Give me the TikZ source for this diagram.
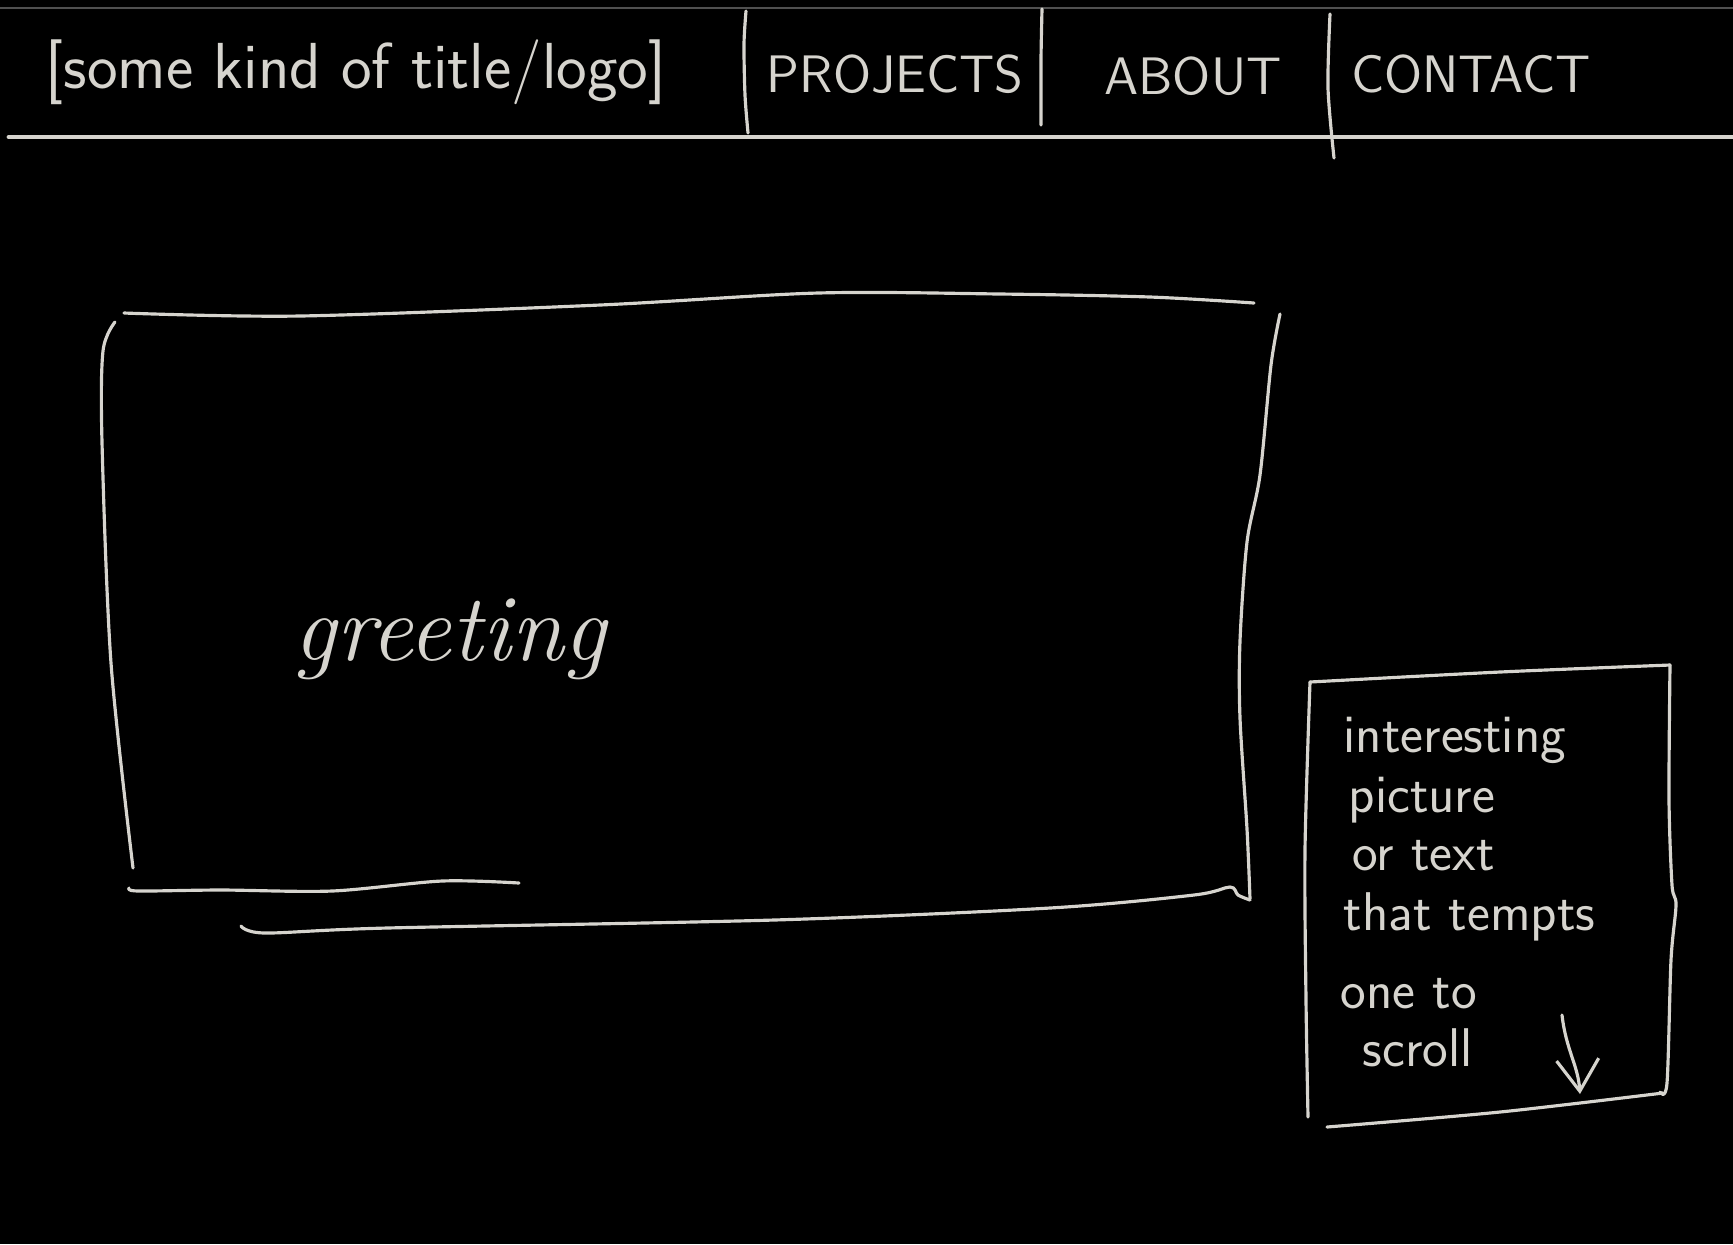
\documentclass[tikz,border=0pt]{standalone}
\usepackage{tikz}
\usetikzlibrary{arrows.meta}
\definecolor{chalk}{HTML}{D6D4CE}
\definecolor{rulegray}{HTML}{505050}

\begin{document}
\begin{tikzpicture}[x=0.01cm,y=-0.01cm,
    pen/.style={chalk,line width=0.9pt,line cap=round,line join=round},
    navlabel/.style={chalk,font=\sffamily\fontsize{15}{17}\selectfont,inner sep=0pt},
    notelabel/.style={chalk,font=\sffamily\fontsize{15.5}{16}\selectfont,inner sep=0pt,anchor=base west}]
    \fill[black] (0,0) rectangle (1733,1244);
    \useasboundingbox (0,0) rectangle (1733,1244);
    % header bar
    \draw[rulegray,line width=0.6pt] (0,8) -- (1733,8);
    \draw[pen,line width=1.4pt] (9,137) -- (1733,137);
    \draw[pen] plot[smooth] coordinates {(746,11) (744,44) (745,95) (748,133)};
    \draw[pen] plot[smooth] coordinates {(1042,9) (1041,60) (1041,125)};
    \draw[pen] plot[smooth] coordinates {(1330,14) (1328,88) (1334,158)};
    \node[navlabel,font=\sffamily\fontsize{18.5}{20}\selectfont] (logo) at (356,72) {[some kind of title/logo]};
    \node[navlabel] (projects) at (895,74) {PROJECTS};
    \node[navlabel] (about) at (1193,76) {ABOUT};
    \node[navlabel] (contact) at (1471,74) {CONTACT};
    % big greeting box
    \draw[pen] plot[smooth] coordinates {(124,313) (300,316) (600,305) (818,293) (1000,294) (1150,297) (1254,303)};
    \draw[pen] plot[smooth] coordinates {(115,322) (103,351) (102,442) (111,663) (133,868)};
    \draw[pen] plot[smooth] coordinates {(1280,314) (1271,365) (1260,475) (1247,542) (1240,641) (1240,718) (1247,829) (1250,899)};
    \draw[pen] plot[smooth] coordinates {(129,888) (138,891) (221,890) (332,891) (442,881) (519,883)};
    \draw[pen] plot[smooth] coordinates {(241,926) (265,933) (387,928) (774,920) (1050,908) (1194,895) (1230,887) (1238,895) (1250,900)};
    \node[chalk,font=\itshape\fontsize{27}{30}\selectfont,inner sep=0pt,anchor=base west] (greeting) at (293,660) {greeting};
    % side teaser box
    \draw[pen] plot[smooth] coordinates {(1310,682) (1500,672) (1670,665)};
    \draw[pen] plot[smooth] coordinates {(1310,682) (1305,850) (1306,1000) (1308,1117)};
    \draw[pen] plot[smooth] coordinates {(1670,665) (1669,800) (1672,885) (1676,905) (1671,960) (1667,1083) (1660,1092)};
    \draw[pen] plot[smooth] coordinates {(1327,1127) (1500,1112) (1663,1093)};
    \node[notelabel] (line1) at (1343,752) {interesting};
    \node[notelabel] (line2) at (1348,812) {picture};
    \node[notelabel] (line3) at (1352,870) {or text};
    \node[notelabel] (line4) at (1343,930) {that tempts};
    \node[notelabel] (line5) at (1340,1008) {one to};
    \node[notelabel] (line6) at (1362,1066) {scroll};
    \coordinate (scrolltop) at (1562,1015);
    \coordinate (scrolltip) at (1580,1094);
    \draw[pen,-{Straight Barb[length=9pt,width=12pt]}] (scrolltop) .. controls (1566,1050) and (1578,1065) .. (scrolltip);
\end{tikzpicture}
\end{document}
